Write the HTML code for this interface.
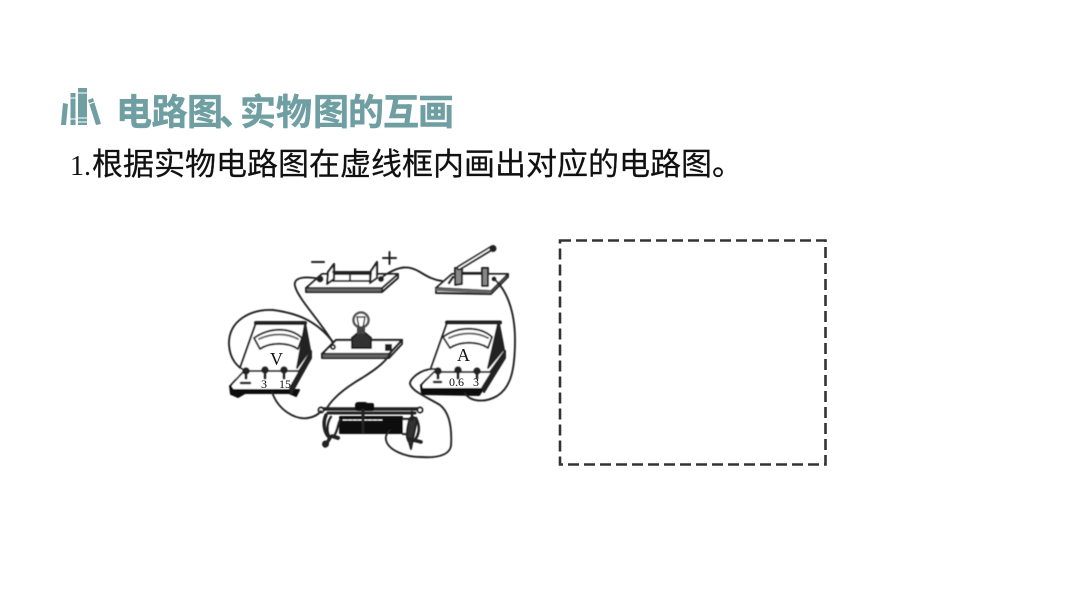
<!DOCTYPE html>
<html><head><meta charset="utf-8">
<style>
html,body{margin:0;padding:0;background:#fff}
body{width:1066px;height:600px;overflow:hidden;position:relative}
svg{position:absolute;left:0;top:0}
</style></head>
<body>
<svg width="1066" height="600" viewBox="0 0 1066 600" xmlns="http://www.w3.org/2000/svg">
<defs><filter id="b" x="-5%" y="-5%" width="110%" height="110%"><feGaussianBlur stdDeviation="0.4"/></filter></defs>
<!-- book icon -->
<g fill="#6f9fa3">
<path d="M63 103l5 1-2 21h-5z"/>
<rect x="70.500" y="93" width="5" height="32"/>
<rect x="78" y="88" width="9" height="37"/>
<path d="M88 100l5-2 8 26-5 1z"/>
</g>
<g stroke="#fff" stroke-width="1" fill="none"><path d="M70 98h6M70 119h6M78 93h9M78 118h9M78 122h9M89 104l5-2"/></g>

<text y="124.500" font-family="'Liberation Sans','Noto Sans CJK SC',sans-serif" font-weight="700" font-size="36" fill="#6f9fa3" stroke="#6f9fa3" stroke-width="0.500" x="116 151.500 187 219 240 276 313 348 383 418">电路图、实物图的互画</text>
<text x="70" y="175" font-family="'Liberation Serif',serif" font-size="28" fill="#111">1.</text>
<text x="92" y="175" font-family="'Liberation Sans','Noto Sans CJK SC',sans-serif" font-size="31" fill="#111" stroke="#111" stroke-width="0.250">根据实物电路图在虚线框内画出对应的电路图。</text>

<!-- dashed box -->
<rect x="560" y="240.500" width="265.500" height="224" fill="none" stroke="#333" stroke-width="2.600" stroke-dasharray="11 5"/>

<g filter="url(#b)">
<g fill="none" stroke="#222" stroke-width="1.900" stroke-linejoin="round" stroke-linecap="round">
<!-- battery -->
<path d="M306 288L322 274H398L382 288Z" fill="#fff"/>
<path d="M306 288V292H382V288M382 292L398 278V274"/>
<rect x="307" y="288.500" width="74" height="3" fill="#666" stroke="none"/>
<path d="M327 284L328 272L334 264V279Z" fill="#fff" stroke-width="2.200"/>
<path d="M333 272H350V281H333M351 272H370V281H351" stroke-width="2"/>
<path d="M370 283L371 271L377 262V278Z" fill="#fff" stroke-width="2.200"/>
<circle cx="320" cy="279" r="3.500" fill="#222" stroke="none"/>
<circle cx="381" cy="279" r="3" fill="#222" stroke="none"/>
<path d="M312 262H324" stroke-width="2"/>
<path d="M383 258H396M389.500 252V264" stroke-width="2"/>

<!-- switch -->
<path d="M436 288L452 274H508L491 291Z" fill="#fff"/>
<path d="M436 288V293L491 294V291M491 294L508 277V274"/>
<path d="M437 289.500L490 292" stroke="#666" stroke-width="3"/>
<path d="M455 285V268H462V284Z" fill="#888"/>
<path d="M482 286V268H488V286Z" fill="#888"/>
<path d="M449 283L453 277" stroke-width="2.500"/>
<path d="M459 268L492 248" stroke-width="5"/>
<path d="M459 268L490 249" stroke="#fff" stroke-width="1.500"/>
<circle cx="493" cy="248.500" r="3.500" fill="#222" stroke="none"/>
<path d="M462 273H482"/>
<circle cx="494" cy="279" r="2.500" fill="#222" stroke="none"/>

<!-- lamp board -->
<path d="M322 354L336 340H402L389 354Z" fill="#fff" stroke-width="2.200"/>
<path d="M322 354V358H389L402 344V340"/>
<rect x="323" y="354.500" width="65" height="3" fill="#666" stroke="none"/>
<path d="M352 348V338L358 333H365L371 338V348Z" fill="#333" stroke="#222"/>
<circle cx="361" cy="320" r="7.500" fill="#fff" stroke="#555" stroke-width="2.500"/>
<path d="M357 317L360 333M365 317L362 333M357 317H365" stroke="#333" stroke-width="1.500"/>
<rect x="357" y="327" width="8" height="7" fill="#444" stroke="none"/>
<circle cx="333" cy="347" r="2" fill="#fff"/>
<rect x="385" y="344" width="7" height="7" fill="#222" stroke="none"/>

<!-- voltmeter -->
<path d="M256 323H305L311 350L289 390H231L257 323" fill="#fff" stroke="none"/>
<path d="M256 323H305" stroke-width="4"/>
<path d="M256 323L240 368"/>
<path d="M305 323L310 350"/>
<path d="M305 324L297 368L310 350Z" fill="#222"/>
<path d="M254 338C270 327 290 327 302 338L298 349C288 342 270 342 260 349Z" fill="#fff" stroke-width="1.900"/>
<path d="M259 339C272 333 287 333 298 339" stroke="#666" stroke-width="2"/>
<path d="M231 385L244 371H299L311 352V358L291 390"/>
<path d="M230 386L231 394L238 397L245 393H289L296 396L299 390H233Z" fill="#111" stroke="#111" stroke-width="2"/>
<path d="M291 394L311 358L311 351L290 388Z" fill="#222"/>
<circle cx="246" cy="371" r="3.800" fill="#222" stroke="none"/>
<circle cx="265" cy="370" r="3.800" fill="#222" stroke="none"/>
<circle cx="284" cy="370" r="3.800" fill="#222" stroke="none"/>
<path d="M246 372V378M265 372V378M284 372V378" stroke-width="3"/>
<path d="M241 383H250" stroke-width="2.500"/>

<!-- ammeter -->
<path d="M447 322H500L505 352L482 390H422L447 322" fill="#fff" stroke="none"/>
<path d="M447 322.500H500" stroke-width="4"/>
<path d="M447 323L431 368"/>
<path d="M499 323L504 350"/>
<path d="M498 324L488 368L503 350Z" fill="#222"/>
<path d="M443 337C458 326 480 326 492 337L488 348C478 341 460 341 450 348Z" fill="#fff" stroke-width="1.900"/>
<path d="M449 338C462 332 477 332 488 338" stroke="#666" stroke-width="2"/>
<path d="M422 384L434 372H490L505 351V358L484 392"/>
<path d="M421 385L422 394L479 395L483 389H422Z" fill="#111" stroke="#111" stroke-width="2"/>
<path d="M484 392L505 357V351L482 388Z" fill="#222"/>
<circle cx="438" cy="371" r="3.800" fill="#222" stroke="none"/>
<circle cx="458" cy="370" r="3.800" fill="#222" stroke="none"/>
<circle cx="477" cy="371" r="3.800" fill="#222" stroke="none"/>
<path d="M438 372V378M458 372V378M477 372V378" stroke-width="3"/>
<path d="M434 382H441" stroke-width="2.500"/>

<!-- rheostat -->
<path d="M321 409H421" stroke-width="3.500"/>
<path d="M328 413H415" stroke-width="3"/>
<circle cx="321" cy="410" r="2.500" fill="#fff"/>
<circle cx="420" cy="410" r="2.500" fill="#fff"/>
<rect x="340" y="417" width="62" height="16" fill="#111" stroke="#111"/>
<path d="M343 420H382" stroke="#fff" stroke-width="1" stroke-dasharray="4 1"/>
<rect x="355" y="402" width="13" height="9" rx="3" fill="#111" stroke="none"/>
<rect x="364" y="403" width="10" height="8" rx="2" fill="#111" stroke="none"/>
<path d="M363 410V432" stroke-width="3"/>
<path d="M331 417C326 424 327 436 331 437C337 437 338 422 340 420" fill="#fff" stroke-width="2.500"/>
<path d="M326 415C322 424 325 434 330 438L325 446" stroke-width="3.500"/>
<circle cx="325.500" cy="444" r="3.500" fill="#222" stroke="none"/>
<path d="M332 436L338 438" stroke-width="4"/>
<path d="M403 419H412V434H403" fill="#fff" stroke-width="2.200"/>
<path d="M409 420C406 432 406 438 409 442L411 449L414 434L417 420C414 416 411 416 409 420Z" fill="#333"/>
<path d="M416 418C420 426 420 434 414 441" stroke-width="2.500"/>
<path d="M410 439L421 442" stroke-width="3.500"/>
<path d="M412 412V420" stroke-width="2.500"/>

<!-- wires -->
<g stroke="#222" stroke-width="1.900">
<path d="M320 279C305 276 293 277 295 286C298 299 322 323 333 343"/>
<path d="M333 342C316 320 296 313 273 310C250 309 228 321 229 345C230 360 238 367 244 370"/>
<path d="M381 278C400 264 410 266 420 272C428 277 434 280 442 281"/>
<path d="M494 279C506 289 515 310 515 340C515 372 510 388 497 396C485 403 470 402 465 393"/>
<path d="M392 350C388 360 378 368 362 378C350 385 334 396 327 408"/>
<path d="M272 392C278 410 295 420 308 418C314 417 318 415 321 411"/>
<path d="M436 369C420 368 409 380 410 384C413 392 425 396 440 405C450 413 452 430 451 446C449 456 435 458 420 457C405 457 388 450 386 440C385 436 388 432 390 430"/>
</g>
</g>
</g>

<g font-family="'Liberation Serif',serif" fill="#111">
<text x="270" y="365" font-size="18">V</text>
<text x="457" y="361" font-size="18">A</text>
<text x="261" y="388" font-size="12">3</text>
<text x="279" y="388" font-size="12">15</text>
<text x="449" y="386" font-size="12">0.6</text>
<text x="473" y="386" font-size="12">3</text>
</g>
</svg>
</body></html>
